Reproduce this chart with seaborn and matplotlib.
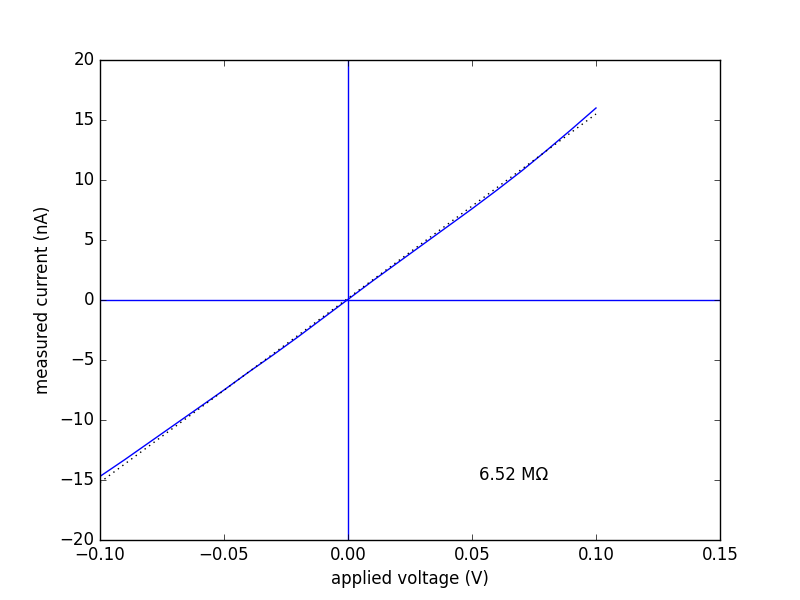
import numpy as np
import pandas as pd
import seaborn as sns
import matplotlib
matplotlib.use("Agg")
import matplotlib.pyplot as plt

# measured I-V curve (V, nA)
voltage = [-0.10, -0.09, -0.08, -0.07, -0.06, -0.05, -0.04, -0.03, -0.02, -0.01,
           0.00, 0.01, 0.02, 0.03, 0.04, 0.05, 0.06, 0.07, 0.08, 0.09, 0.10]
current = [-14.7, -13.3, -11.85, -10.4, -8.95, -7.5, -6.0, -4.55, -3.05, -1.5,
           0.05, 1.6, 3.1, 4.6, 6.1, 7.6, 9.15, 10.75, 12.45, 14.2, 16.0]

# linear fit endpoints
fit_voltage = [-0.10, 0.10]
fit_current = [-15.2, 15.5]

resistance_label = "6.52 M\u03a9"

plt.style.use("classic")
df = pd.DataFrame({"voltage": voltage, "current": current})
fit_df = pd.DataFrame({"voltage": fit_voltage, "current": fit_current})

fig, ax = plt.subplots(figsize=(8, 6), dpi=100)
fig.subplots_adjust(left=0.125, right=0.9, bottom=0.1, top=0.9)

sns.lineplot(data=df, x="voltage", y="current", color="blue", linewidth=1,
             sort=False, ax=ax, legend=False)
sns.lineplot(data=fit_df, x="voltage", y="current", color="black", linewidth=1,
             linestyle=":", sort=False, ax=ax, legend=False)
ax.axhline(0, color="blue", linewidth=1)
ax.axvline(0, color="blue", linewidth=1)

ax.text(0.053, -15, resistance_label, fontsize=12, va="baseline")

ax.set_xlim(-0.10, 0.15)
ax.set_ylim(-20, 20)
ax.set_xlabel("applied voltage (V)")
ax.set_ylabel("measured current (nA)")

fig.savefig("out.png", dpi=100, facecolor="white")
